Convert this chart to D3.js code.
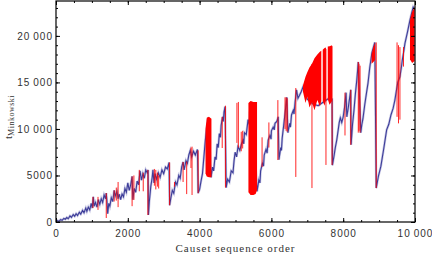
<!DOCTYPE html>
<html>
<head>
<meta charset="utf-8">
<script src="https://cdn.jsdelivr.net/npm/d3@7"></script>
<style>
  body { margin: 0; background: #fff; }
  svg { display: block; font-family: 'Liberation Serif', 'DejaVu Serif', serif; }
</style>
</head>
<body>
<div id="chart"></div>
<script>
// t_Minkowski along the causet sequence
// the jittery rising trace: [order, t]
const trace = [
  [0, 0], [40, 150], [80, 60], [130, 260], [170, 180], [220, 380], [260, 300], [300, 480],
  [340, 350], [390, 650], [430, 500], [480, 800], [520, 620], [560, 900], [600, 700],
  [650, 1050], [690, 850], [740, 1250], [780, 1000], [830, 1500], [860, 1150], [900, 1600],
  [940, 1300], [980, 2000], [1010, 1500], [1040, 2700], [1060, 1700], [1100, 2100],
  [1140, 1600], [1180, 2400], [1220, 1900], [1260, 2500], [1300, 2100], [1340, 2900],
  [1380, 2500], [1400, 3100], [1420, 2200], [1440, 900], [1470, 2000], [1500, 1700],
  [1540, 2600], [1580, 2200], [1620, 3400], [1650, 2800], [1700, 3300], [1730, 2500],
  [1760, 3000], [1800, 2400], [1840, 3000], [1880, 2700], [1920, 3600], [1960, 3200],
  [2000, 4200], [2040, 3400], [2080, 4000], [2120, 4900], [2140, 2400], [2180, 3600],
  [2220, 3200], [2260, 4400], [2300, 4000], [2340, 5500], [2380, 4500], [2420, 5200],
  [2460, 4700], [2500, 5600], [2540, 5300], [2565, 5600], [2575, 750], [2600, 2200],
  [2640, 3800], [2680, 4800], [2700, 5600], [2730, 4200], [2760, 5200], [2800, 4600],
  [2850, 5300], [2900, 4800], [2950, 5600], [3000, 5200], [3050, 5900], [3100, 5700],
  [3150, 6400], [3165, 1800], [3200, 2600], [3240, 3400], [3280, 3100], [3330, 4300],
  [3370, 4000], [3420, 5000], [3460, 4700], [3500, 5900], [3540, 6450], [3570, 5600],
  [3620, 6600], [3660, 6300], [3700, 7200], [3740, 7700], [3780, 7000], [3830, 7600],
  [3880, 7200], [3940, 7800], [3960, 3100], [4000, 3500], [4040, 4400], [4080, 5200],
  [4120, 7000], [4160, 8800], [4200, 10200], [4240, 11200], [4320, 4800], [4360, 5900],
  [4390, 5500], [4430, 7000], [4460, 6700], [4490, 8400], [4520, 8000], [4550, 9500],
  [4580, 9100], [4600, 10400], [4640, 11300], [4660, 10800], [4680, 11800], [4710, 12400],
  [4740, 3700], [4780, 4600], [4830, 4300], [4880, 5500], [4930, 5300], [4960, 6600],
  [4990, 7500], [5030, 7000], [5070, 8100], [5120, 7700], [5160, 8300], [5210, 8800],
  [5230, 8400], [5250, 9600], [5300, 9400], [5350, 11000], [5380, 10500], [5400, 11800],
  [5460, 12900], [5600, 3300], [5650, 4500], [5680, 4200], [5700, 5500], [5750, 6300],
  [5780, 6000], [5800, 7200], [5850, 7800], [5880, 7400], [5910, 8800], [5960, 9300],
  [5990, 8900], [6000, 9800], [6050, 10200], [6080, 9900], [6100, 10600], [6150, 10800],
  [6190, 11300], [6210, 6700], [6260, 8000], [6280, 7700], [6300, 9000], [6340, 10300],
  [6380, 11700], [6430, 13400], [6460, 9600], [6510, 10600], [6530, 10200], [6560, 11500],
  [6610, 12000], [6630, 11600], [6660, 12900], [6700, 14200], [6740, 13300], [6780, 13600],
  [6830, 14000], [6880, 14500], [7000, 13200], [7150, 12700], [7300, 12500], [7450, 12900],
  [7600, 13300], [7690, 13200], [7700, 6100], [7740, 7000], [7780, 8000], [7820, 8800],
  [7850, 9600], [7890, 10700], [7920, 11200], [7960, 10700], [8000, 11300], [8040, 12400],
  [8080, 13900], [8100, 11300], [8130, 12000], [8160, 12800], [8210, 14200], [8220, 8300],
  [8260, 10500], [8300, 12000], [8340, 13800], [8380, 15300], [8420, 17200], [8490, 9600],
  [8520, 10500], [8550, 11100], [8600, 12600], [8650, 13900], [8690, 14900], [8740, 16600],
  [8800, 18200], [8880, 19300], [8920, 3650], [8980, 4900], [9050, 6000], [9130, 7900],
  [9210, 9900], [9270, 10500], [9330, 11500], [9390, 12200], [9440, 13100], [9480, 14100],
  [9520, 15000], [9580, 15600], [9620, 16600], [9650, 17500], [9690, 18400], [9720, 19200],
  [9790, 20400], [9860, 21700], [9910, 22500], [9950, 23100], [10000, 22800]
]

// falling steps: [order, from, to]
const drops = [
  [1030, 2700, 1500], [1170, 2700, 1300], [1400, 3100, 430], [1620, 3400, 2200],
  [1680, 3700, 2300], [1730, 4300, 1600], [2120, 4900, 1700], [2170, 5000, 2370],
  [2320, 5600, 3300], [2430, 5300, 3300], [2560, 5600, 750], [2740, 5700, 3900],
  [2780, 5600, 3500], [2830, 5300, 3800], [2860, 5000, 3600], [3165, 6400, 1800],
  [3300, 4300, 3800], [3540, 6450, 4300], [3640, 6500, 3000], [3760, 8000, 5800],
  [3790, 8100, 2900], [3960, 7700, 3100], [4630, 11300, 7950], [4720, 12500, 3700],
  [5040, 12800, 8500], [5080, 12900, 8000], [5160, 9700, 7600], [5200, 9800, 7900],
  [5740, 9100, 5900], [5930, 10700, 8000], [6180, 13100, 6660], [6380, 13400, 10000],
  [6410, 13400, 9800], [6440, 13300, 9700], [6680, 14400, 4840], [7130, 17000, 3650],
  [7520, 18600, 6130], [7690, 18900, 6130], [8050, 13900, 9300], [8210, 14200, 8300],
  [8420, 17200, 9600], [8440, 17000, 9800], [8470, 16800, 9600], [8920, 19300, 3650],
  [9500, 19300, 11300], [9540, 19000, 10600], [9580, 18800, 11000], [9680, 18800, 16700]
]

// fast oscillation stretches, filled: [order, top, bottom]
const bands = [
  [[4165, 10000, 5200], [4200, 11200, 4900], [4260, 11300, 4800], [4330, 11100, 4800]],
  [[5360, 12800, 3200], [5420, 13000, 2900], [5500, 12900, 2900], [5560, 12900, 3000],
    [5600, 12900, 3400]],
  [[6880, 14700, 14000], [6950, 15600, 12800], [7000, 16100, 13500], [7060, 16600, 12300],
    [7130, 17000, 12900], [7200, 17600, 12000], [7280, 18000, 13100], [7350, 18300, 12400],
    [7390, 18400, 13000]],
  [[7430, 18500, 13000], [7480, 18700, 12500], [7520, 18750, 13200]],
  [[7570, 18850, 13200], [7620, 18900, 12600], [7690, 19000, 13000]],
  [[8790, 18000, 17000], [8840, 18800, 17200], [8890, 19300, 17400]],
  [[9860, 21700, 17500], [9920, 22600, 17100], [9990, 23100, 17300]]
]

const xTicks = [0, 2000, 4000, 6000, 8000, 10000]
const yTicks = [0, 5000, 10000, 15000, 20000]

const width = 432
const height = 256
const margin = {left: 56, right: 17, top: 1, bottom: 34}

const x = d3.scaleLinear()
  .domain([0, 10000])
  .range([margin.left, width - margin.right])
const y = d3.scaleLinear()
  .domain([0, 23750])
  .range([height - margin.bottom, margin.top])

// mathematica style numbers: 20 000
const fmt = d => d >= 10000 ? d3.format(',')(d).replace(',', '\u2009') : String(d)

const svg = d3.select('#chart').append('svg')
  .attr('width', width)
  .attr('height', height)

svg.append('clipPath')
  .attr('id', 'plot-clip')
  .append('rect')
  .attr('x', x(0))
  .attr('y', y(23750))
  .attr('width', x(10000) - x(0))
  .attr('height', y(0) - y(23750))

const plot = svg.append('g')
  .attr('clip-path', 'url(#plot-clip)')

const line = d3.line()
  .x(d => x(d[0]))
  .y(d => y(d[1]))

// soft halo then the main blue trace
plot.append('path')
  .datum(trace)
  .attr('d', line)
  .attr('fill', 'none')
  .attr('stroke', '#8c8cc8')
  .attr('stroke-width', 2.4)
  .attr('stroke-opacity', 0.5)

plot.append('path')
  .datum(trace)
  .attr('d', line)
  .attr('fill', 'none')
  .attr('stroke', '#3d3d99')
  .attr('stroke-width', 1.1)

const area = d3.area()
  .x(d => x(d[0]))
  .y0(d => y(d[2]))
  .y1(d => y(d[1]))

plot.selectAll('.band')
  .data(bands)
  .enter()
  .append('path')
  .attr('class', 'band')
  .attr('d', area)
  .attr('fill', '#ff0000')

plot.selectAll('.drop')
  .data(drops)
  .enter()
  .append('line')
  .attr('class', 'drop')
  .attr('x1', d => x(d[0]))
  .attr('x2', d => x(d[0]))
  .attr('y1', d => y(d[1]))
  .attr('y2', d => y(d[2]))
  .attr('stroke', '#ff0000')
  .attr('stroke-width', 1)
  .attr('stroke-opacity', 0.85)

// frame ticks, pointing inwards on all four sides
const x0 = x(0)
const x1 = x(10000)
const y0 = y(0)
const y1 = y(23750)
const minorX = d3.range(0, 10001, 500)
const minorY = d3.range(0, 23001, 1000)

const tickStyle = g => {
  g.select('.domain').remove()
  g.selectAll('line').attr('stroke', '#000')
  g.selectAll('text')
    .attr('fill', '#333')
    .style('font-size', '10px')
    .style('letter-spacing', '1px')
}

svg.append('g')
  .attr('transform', `translate(0,${y0})`)
  .call(d3.axisBottom(x).tickValues(minorX).tickSize(-2).tickFormat(''))
  .call(tickStyle)
svg.append('g')
  .attr('transform', `translate(0,${y0})`)
  .call(d3.axisBottom(x).tickValues(xTicks).tickSize(-4).tickPadding(8).tickFormat(fmt))
  .call(tickStyle)
svg.append('g')
  .attr('transform', `translate(0,${y1})`)
  .call(d3.axisTop(x).tickValues(minorX).tickSize(-2).tickFormat(''))
  .call(tickStyle)
svg.append('g')
  .attr('transform', `translate(0,${y1})`)
  .call(d3.axisTop(x).tickValues(xTicks).tickSize(-4).tickFormat(''))
  .call(tickStyle)

svg.append('g')
  .attr('transform', `translate(${x0},0)`)
  .call(d3.axisLeft(y).tickValues(minorY).tickSize(-2).tickFormat(''))
  .call(tickStyle)
svg.append('g')
  .attr('transform', `translate(${x0},0)`)
  .call(d3.axisLeft(y).tickValues(yTicks).tickSize(-4).tickPadding(3).tickFormat(fmt))
  .call(tickStyle)
svg.append('g')
  .attr('transform', `translate(${x1},0)`)
  .call(d3.axisRight(y).tickValues(minorY).tickSize(-2).tickFormat(''))
  .call(tickStyle)
svg.append('g')
  .attr('transform', `translate(${x1},0)`)
  .call(d3.axisRight(y).tickValues(yTicks).tickSize(-4).tickFormat(''))
  .call(tickStyle)

svg.append('rect')
  .attr('x', x0)
  .attr('y', y1)
  .attr('width', x1 - x0)
  .attr('height', y0 - y1)
  .attr('fill', 'none')
  .attr('stroke', '#000')
  .attr('stroke-width', 1.2)

// axis titles
svg.append('text')
  .attr('x', (x0 + x1) / 2)
  .attr('y', 252)
  .attr('text-anchor', 'middle')
  .attr('fill', '#333')
  .style('font-size', '11px')
  .style('letter-spacing', '1px')
  .text('Causet sequence order')

const yTitle = svg.append('text')
  .attr('transform', 'translate(12,117) rotate(-90)')
  .attr('text-anchor', 'middle')
  .attr('fill', '#333')
  .style('font-size', '11px')
yTitle.append('tspan').text('t')
yTitle.append('tspan')
  .attr('dy', 2)
  .style('font-size', '8px')
  .style('letter-spacing', '0.5px')
  .text('Minkowski')
</script>
</body>
</html>
